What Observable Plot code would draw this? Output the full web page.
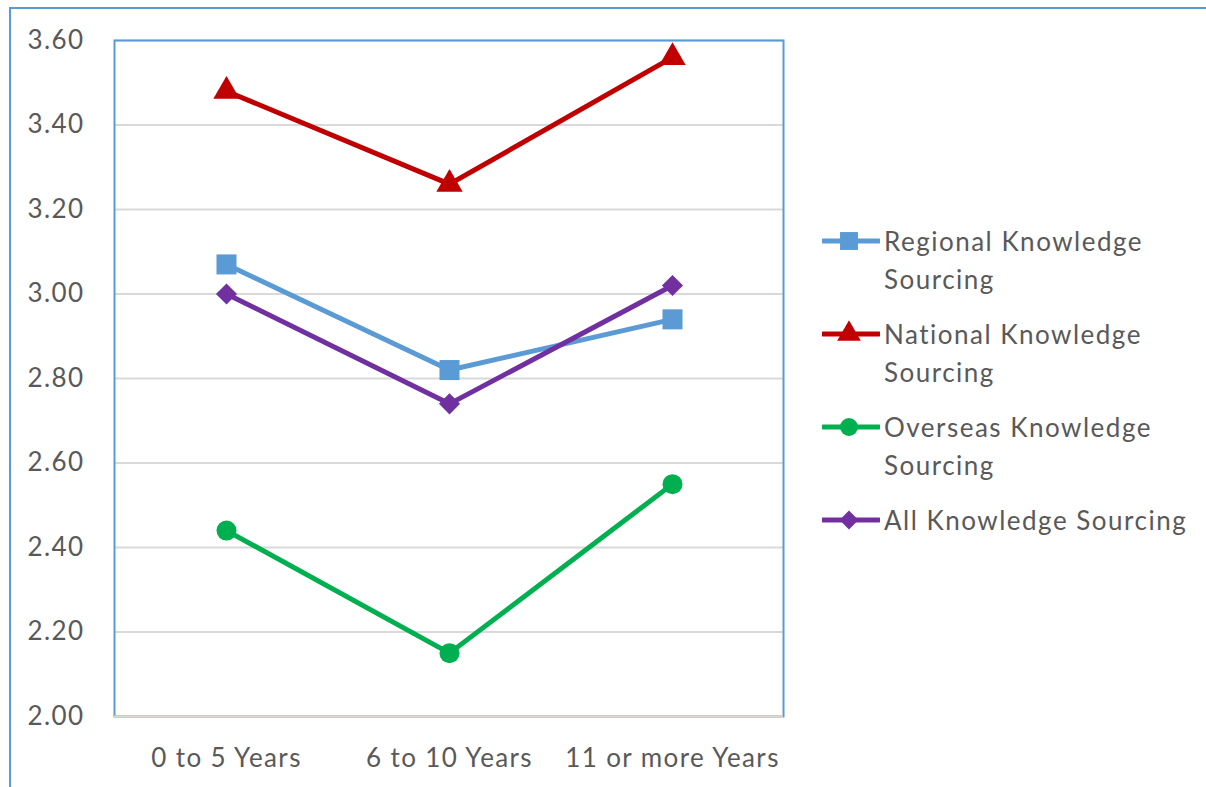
<!DOCTYPE html>
<html>
<head>
<meta charset="utf-8">
<script src="https://cdn.jsdelivr.net/npm/d3@7"></script>
<script src="https://cdn.jsdelivr.net/npm/@observablehq/plot@0.6"></script>
<style>
  html, body { margin: 0; padding: 0; background: #fff; }
  body { width: 1206px; height: 787px; position: relative; overflow: hidden; font-family: Lato, "Open Sans", sans-serif; }
  #frame { position: absolute; left: 9px; top: 7px; width: 1200px; height: 790px; border-left: 2px solid #5b9bd5; border-top: 2px solid #5b9bd5; box-sizing: border-box; }
  #chart { position: absolute; left: 0; top: 0; }
  #chart text { letter-spacing: 1.4px; }
  #legend { position: absolute; left: 822px; top: 222px; color: #595959; font-size: 26px; letter-spacing: 1.5px; }
  .item { display: flex; align-items: flex-start; margin-bottom: 17px; }
  .item svg { flex: none; margin-top: 5px; }
  .item span { line-height: 38px; margin-left: 4px; width: 340px; white-space: nowrap; }
</style>
</head>
<body>
<div id="frame"></div>
<div id="chart"></div>
<div id="legend"></div>
<script>
const categories = ["0 to 5 Years", "6 to 10 Years", "11 or more Years"];
const seriesNames = ["Regional Knowledge Sourcing", "National Knowledge Sourcing", "Overseas Knowledge Sourcing", "All Knowledge Sourcing"];
const legendLines = [["Regional Knowledge", "Sourcing"], ["National Knowledge", "Sourcing"], ["Overseas Knowledge", "Sourcing"], ["All Knowledge Sourcing"]];
const regional = [3.07, 2.82, 2.94];
const national = [3.48, 3.26, 3.56];
const overseas = [2.44, 2.15, 2.55];
const allSourcing = [3.00, 2.74, 3.02];
const yTicks = [2.0, 2.2, 2.4, 2.6, 2.8, 3.0, 3.2, 3.4, 3.6];
const colors = ["#5b9bd5", "#c00000", "#00b050", "#7030a0"];
const symbols = ["square", "triangle", "circle", "diamond2"];
const radii = [11.3, 9.8, 10, 9.5];

const valuesList = [regional, national, overseas, allSourcing];
const data = [];
seriesNames.forEach((s, i) => categories.forEach((c, j) => data.push({series: s, cat: c, value: valuesList[i][j]})));

const marks = [
  Plot.gridY(yTicks, {stroke: "#d9d9d9", strokeOpacity: 1, strokeWidth: 2}),
  Plot.frame({stroke: "#5b9bd5", strokeWidth: 2}),
  Plot.ruleY([2.0], {stroke: "#d9d9d9", strokeWidth: 2}),
  Plot.axisY(yTicks, {tickSize: 0, tickPadding: 30, tickFormat: d3.format(".2f"), fontSize: 26, fill: "#595959", label: null}),
  Plot.axisX({tickSize: 0, tickPadding: 32, fontSize: 26, fill: "#595959", label: null})
];
seriesNames.forEach((s, i) => {
  const d = data.filter(r => r.series === s);
  marks.push(Plot.line(d, {x: "cat", y: "value", stroke: colors[i], strokeWidth: 5}));
  marks.push(Plot.dot(d, {x: "cat", y: "value", fill: colors[i], stroke: "none", symbol: () => symbols[i], r: radii[i]}));
});

const chart = Plot.plot({
  width: 800,
  height: 787,
  marginLeft: 114,
  marginTop: 40,
  marginRight: 17,
  marginBottom: 71,
  style: {fontFamily: "Lato, 'Open Sans', sans-serif", background: "transparent", overflow: "visible"},
  x: {type: "point", domain: categories, padding: 0.5},
  y: {domain: [2.0, 3.6]},
  symbol: {type: "identity"},
  marks
});
document.getElementById("chart").appendChild(chart);

const legend = d3.select("#legend");
seriesNames.forEach((s, i) => {
  const item = legend.append("div").attr("class", "item");
  const svg = item.append("svg").attr("width", 58).attr("height", 28);
  svg.append("line").attr("x1", 1).attr("x2", 57).attr("y1", 14).attr("y2", 14)
    .attr("stroke", colors[i]).attr("stroke-width", 5).attr("stroke-linecap", "round");
  const sym = {square: d3.symbolSquare, triangle: d3.symbolTriangle, circle: d3.symbolCircle, diamond2: d3.symbolDiamond2}[symbols[i]];
  const size = Math.PI * radii[i] * radii[i] * 0.8;
  svg.append("path").attr("d", d3.symbol(sym, size)()).attr("transform", "translate(27,14)").attr("fill", colors[i]);
  item.append("span").html(legendLines[i].join("<br>"));
});
</script>
</body>
</html>
